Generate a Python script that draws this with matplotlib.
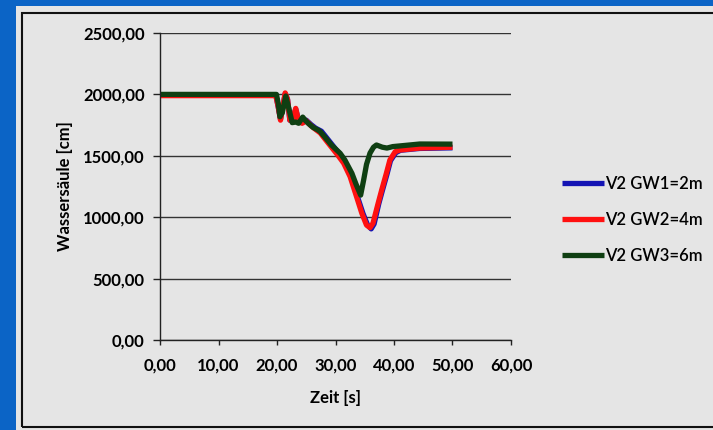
import matplotlib
matplotlib.use("Agg")
import matplotlib.pyplot as plt
from matplotlib.patches import Rectangle

plt.rcParams['font.family'] = ['Lato', 'DejaVu Sans']

# ---- data ----
t_gw1 = [0, 19.8, 20.2, 20.6, 21.0, 21.4, 21.8, 22.2, 22.7, 23.2, 23.7, 24.3, 25.0, 25.8, 26.6,
         27.6, 28.6, 29.6, 30.6, 31.6, 32.7, 33.8, 34.7, 35.5, 36.1, 36.6, 37.4, 38.0, 38.8,
         39.4, 40.3, 41.1, 44.4, 50.0]
v_gw1 = [1995, 1995, 1900, 1800, 1900, 2005, 1960, 1790, 1800, 1880, 1785, 1770, 1790, 1755, 1725,
         1700, 1640, 1580, 1520, 1450, 1330, 1160, 1030, 935, 905, 945, 1110, 1215, 1350,
         1460, 1525, 1545, 1560, 1565]

t_gw2 = [0, 19.8, 20.2, 20.6, 21.0, 21.4, 21.8, 22.2, 22.7, 23.2, 23.7, 24.3, 25.0, 25.8, 26.6,
         27.4, 28.4, 29.4, 30.4, 31.4, 32.5, 33.6, 34.5, 35.3, 35.9, 36.4, 37.3, 37.9, 38.7,
         39.3, 40.2, 41.0, 44.4, 50.0]
v_gw2 = [1990, 1990, 1900, 1790, 1900, 2012, 1960, 1790, 1800, 1886, 1780, 1765, 1785, 1745, 1715,
         1686, 1625, 1565, 1505, 1440, 1330, 1167, 1032, 936, 915, 950, 1115, 1222, 1358,
         1466, 1533, 1547, 1563, 1570]

t_gw3 = [0, 19.9, 20.2, 20.5, 20.9, 21.5, 22.0, 22.6, 23.2, 23.7, 24.4, 24.9, 25.4, 26.2, 27.0,
         27.4, 28.4, 29.3, 30.8, 31.6, 32.8, 33.5, 34.3, 34.8, 35.3, 35.9, 36.5, 37.0, 38.0,
         38.8, 39.8, 44.4, 50.0]
v_gw3 = [2000, 2000, 1930, 1818, 1850, 1987, 1890, 1770, 1775, 1765, 1815, 1785, 1762, 1730, 1710,
         1696, 1640, 1588, 1520, 1466, 1358, 1270, 1180, 1300, 1430, 1522, 1570, 1588, 1570,
         1563, 1575, 1596, 1595]

labels = ['V2 GW1=2m', 'V2 GW2=4m', 'V2 GW3=6m']
colors = ['#1414b4', '#ff1010', '#0f3f12']

x_ticks = [0, 10, 20, 30, 40, 50, 60]
y_ticks = [0, 500, 1000, 1500, 2000, 2500]

def de(v):
    return f"{v:.2f}".replace('.', ',')

# ---- figure ----
W, H = 713, 430
fig = plt.figure(figsize=(W / 100, H / 100), dpi=100, facecolor='#0b64c6')

fig.patches.append(Rectangle((16 / W, 0), 1, 1 - 6 / H, transform=fig.transFigure,
                             facecolor='#e5e5e5', edgecolor='none', zorder=-20))
fig.patches.append(Rectangle((22 / W, 3 / H), 1, 1 - 16 / H, transform=fig.transFigure,
                             facecolor='none', edgecolor='#111111', linewidth=1.5, zorder=-10))

ax = fig.add_axes([160 / W, 1 - 340 / H, (511 - 160) / W, (340 - 33) / H])
ax.set_facecolor('none')
ax.set_zorder(5)

for t, v, lab, c in zip([t_gw1, t_gw2, t_gw3], [v_gw1, v_gw2, v_gw3], labels, colors):
    ax.plot(t, v, color=c, lw=3.8, label=lab, solid_joinstyle='round', solid_capstyle='butt')

ax.set_xlim(0, 60)
ax.set_ylim(0, 2500)
ax.set_xticks(x_ticks)
ax.set_yticks(y_ticks)
ax.set_xticklabels([de(x) for x in x_ticks])
ax.set_yticklabels([de(y) for y in y_ticks])
for lab in ax.get_xticklabels() + ax.get_yticklabels():
    lab.set_fontweight('bold')
    lab.set_fontsize(12)
ax.tick_params(axis='y', length=5, width=1.0, pad=6, color='#222222')
ax.tick_params(axis='x', length=3.5, width=1.0, pad=9, color='#222222')
ax.yaxis.grid(True, color='#333333', lw=1.0)
ax.set_axisbelow(True)
for s in ['top', 'right']:
    ax.spines[s].set_visible(False)
for s in ['left', 'bottom']:
    ax.spines[s].set_color('#222222')
    ax.spines[s].set_linewidth(1.0)

ax.set_xlabel('Zeit [s]', fontsize=12, fontweight='bold', labelpad=12)
ax.set_ylabel('Wassersäule [cm]', fontsize=12, fontweight='bold', labelpad=7)

leg = fig.legend(loc='center left', bbox_to_anchor=(547 / W, 1 - 220 / H), frameon=False,
                 fontsize=12, handlelength=2.5, handletextpad=0.1, labelspacing=1.2)
leg.set_zorder(6)
for txt in leg.get_texts():
    txt.set_fontweight('semibold')

fig.savefig('out.png', dpi=100, facecolor=fig.get_facecolor())
